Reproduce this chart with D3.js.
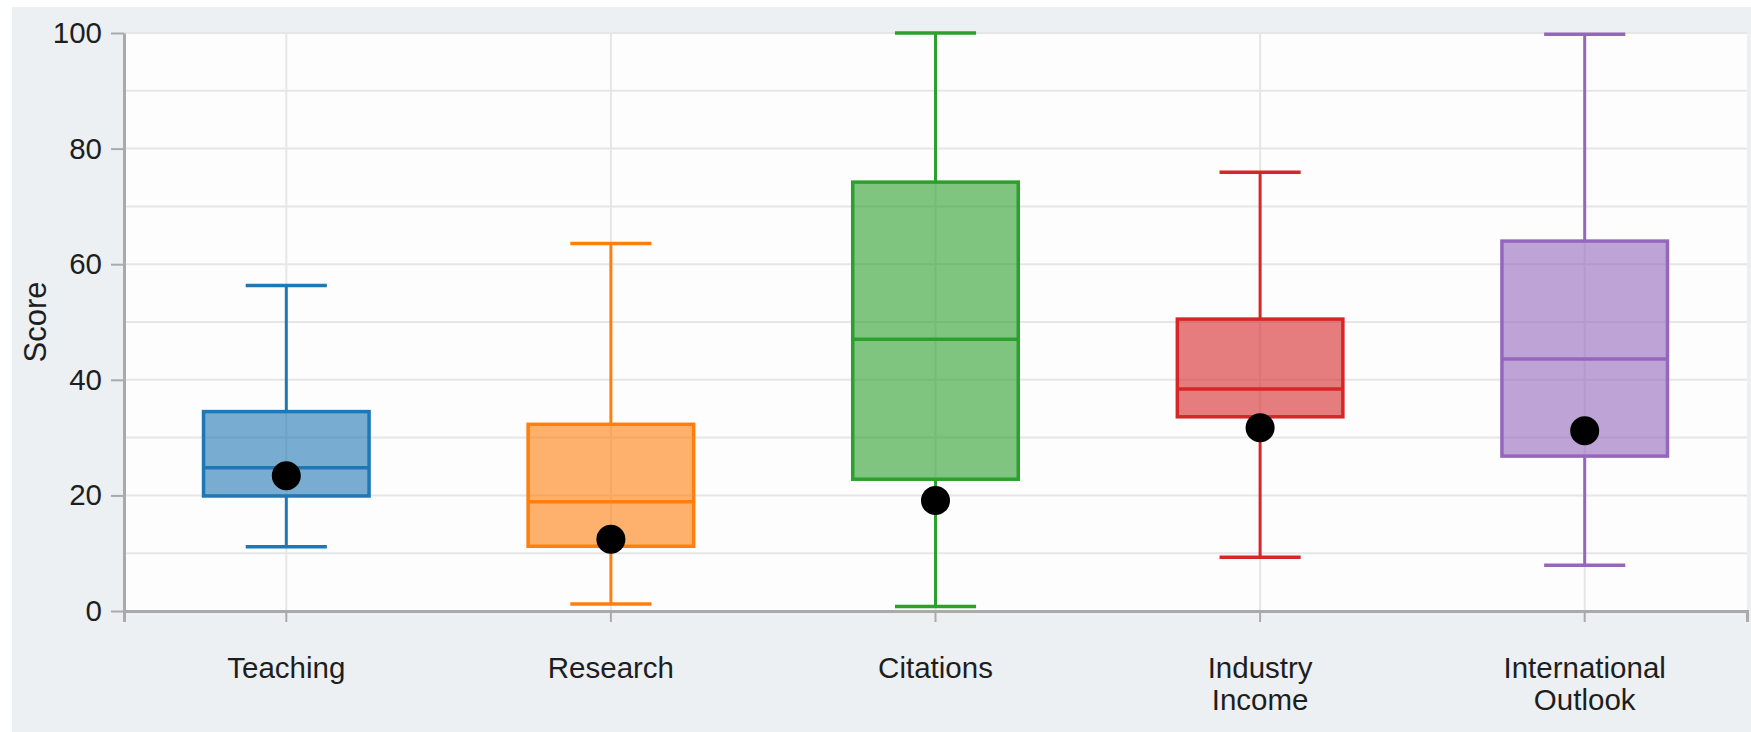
<!DOCTYPE html>
<html>
<head>
<meta charset="utf-8">
<script src="https://cdn.jsdelivr.net/npm/d3@7"></script>
<style>
  body { margin: 0; background: #fff; }
  svg { display: block; font-family: "Liberation Sans", Arial, sans-serif; }
</style>
</head>
<body>
<svg id="chart" width="1751" height="732"></svg>
<script>
// categories and their (possibly two-line) labels
const categories = ["Teaching", "Research", "Citations", "Industry Income", "International Outlook"];
const labelLines = [["Teaching"], ["Research"], ["Citations"], ["Industry", "Income"], ["International", "Outlook"]];
const colors = ["#1f77b4", "#ff7f0e", "#2ca02c", "#d62728", "#9467bd"];

// box statistics
const whiskerLow = [11.1, 1.2, 0.8, 9.3, 7.9];
const q1 = [19.9, 11.2, 22.8, 33.6, 26.8];
const median = [24.8, 18.9, 47.0, 38.4, 43.6];
const q3 = [34.5, 32.3, 74.2, 50.5, 64.0];
const whiskerHigh = [56.3, 63.6, 100, 75.9, 99.8];
const mean = [23.4, 12.4, 19.1, 31.7, 31.2];

const yTicks = [0, 20, 40, 60, 80, 100];

const svg = d3.select("#chart");
const mLeft = 124, mRight = 1747, mTop = 33, mBottom = 611;

// outer panel
svg.append("rect").attr("x", 12).attr("y", 7).attr("width", 1739).attr("height", 725).attr("fill", "#ecf0f3");
svg.append("rect").attr("x", mLeft).attr("y", mTop).attr("width", mRight - mLeft).attr("height", mBottom - mTop).attr("fill", "#fdfdfd");

const x = d3.scaleBand().domain(categories).range([mLeft, mRight]).padding(0);
const y = d3.scaleLinear().domain([0, 100]).range([mBottom, mTop]);
const bw = x.bandwidth();
const cx = d => x(d) + bw / 2;

// grid
const grid = svg.append("g");
grid.selectAll(".hg").data(d3.range(10, 101, 10)).join("line")
  .attr("x1", mLeft).attr("x2", mRight)
  .attr("y1", d => y(d)).attr("y2", d => y(d))
  .attr("stroke", "#e6e6e6").attr("stroke-width", 2);
grid.selectAll(".vg").data(categories).join("line")
  .attr("x1", cx).attr("x2", cx)
  .attr("y1", mTop).attr("y2", mBottom)
  .attr("stroke", "#e6e6e6").attr("stroke-width", 2);

// axes
const xAxis = svg.append("g")
  .attr("transform", `translate(0,${mBottom})`)
  .call(d3.axisBottom(x).tickSizeInner(11).tickSizeOuter(11).tickFormat(""));
const yAxis = svg.append("g")
  .attr("transform", `translate(${mLeft},0)`)
  .call(d3.axisLeft(y).tickValues(yTicks).tickSizeInner(13).tickSizeOuter(0).tickPadding(9));

[xAxis, yAxis].forEach(a => {
  a.select(".domain").attr("stroke", "#aaa").attr("stroke-width", 3);
  a.selectAll(".tick line").attr("stroke", "#aaa").attr("stroke-width", 2);
  a.selectAll("text").attr("fill", "#1e1e1e").style("font-size", "29.5px").style("font-family", "'Liberation Sans', Arial, sans-serif");
});

xAxis.selectAll(".tick").each(function (d, i) {
  const t = d3.select(this).append("text")
    .attr("fill", "#1e1e1e").attr("text-anchor", "middle")
    .attr("y", 46).style("font-size", "29.5px");
  labelLines[i].forEach((line, j) => {
    t.append("tspan").attr("x", 0).attr("dy", j === 0 ? "0.71em" : "1.1em").text(line);
  });
});

svg.append("text")
  .attr("transform", `translate(46,${(mTop + mBottom) / 2}) rotate(-90)`)
  .attr("text-anchor", "middle")
  .attr("fill", "#1e1e1e")
  .style("font-size", "31px")
  .text("Score");

// boxes
const boxW = bw * 0.51, capW = bw * 0.25;
const boxes = svg.append("g").selectAll("g").data(categories).join("g");

boxes.append("line")
  .attr("x1", cx).attr("x2", cx)
  .attr("y1", (d, i) => y(whiskerHigh[i])).attr("y2", (d, i) => y(q3[i]))
  .attr("stroke", (d, i) => colors[i]).attr("stroke-width", 3);
boxes.append("line")
  .attr("x1", cx).attr("x2", cx)
  .attr("y1", (d, i) => y(q1[i])).attr("y2", (d, i) => y(whiskerLow[i]))
  .attr("stroke", (d, i) => colors[i]).attr("stroke-width", 3);
[whiskerHigh, whiskerLow].forEach(arr => {
  boxes.append("line")
    .attr("x1", d => cx(d) - capW / 2).attr("x2", d => cx(d) + capW / 2)
    .attr("y1", (d, i) => y(arr[i])).attr("y2", (d, i) => y(arr[i]))
    .attr("stroke", (d, i) => colors[i]).attr("stroke-width", 3.5);
});
boxes.append("rect")
  .attr("x", d => cx(d) - boxW / 2).attr("width", boxW)
  .attr("y", (d, i) => y(q3[i])).attr("height", (d, i) => y(q1[i]) - y(q3[i]))
  .attr("fill", (d, i) => colors[i]).attr("fill-opacity", 0.6)
  .attr("stroke", (d, i) => colors[i]).attr("stroke-width", 3.5);
boxes.append("line")
  .attr("x1", d => cx(d) - boxW / 2).attr("x2", d => cx(d) + boxW / 2)
  .attr("y1", (d, i) => y(median[i])).attr("y2", (d, i) => y(median[i]))
  .attr("stroke", (d, i) => colors[i]).attr("stroke-width", 3.5);
boxes.append("circle")
  .attr("cx", cx).attr("cy", (d, i) => y(mean[i]))
  .attr("r", 14.5).attr("fill", "#000");
</script>
</body>
</html>
